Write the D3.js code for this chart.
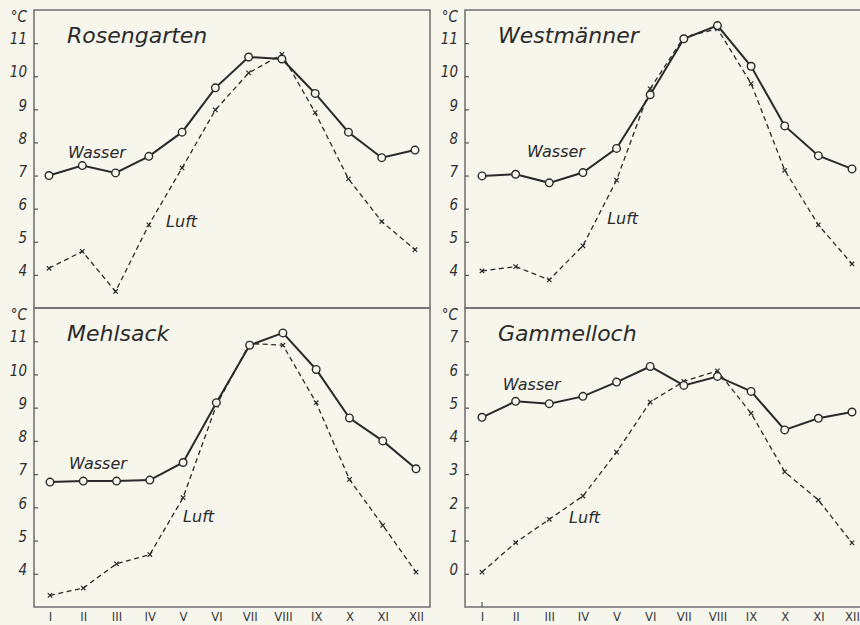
<!DOCTYPE html>
<html>
  <head>
    <meta charset="utf-8">
    <title>Wasser- und Lufttemperatur</title>
    <style>
      body { margin: 0; background: #f7f6ec; }
      svg { display: block; }
      .title { font-family: 'DejaVu Sans', sans-serif; font-style: italic; font-size: 22px; fill: #2b2b2b; }
      .series { font-family: 'DejaVu Sans', sans-serif; font-style: italic; font-size: 16px; fill: #2b2b2b; }
      .ylab { font-family: 'DejaVu Sans Condensed', 'DejaVu Sans', sans-serif; font-style: italic; font-size: 15px; fill: #2f2f2f; }
      .mlab { font-family: 'DejaVu Sans Condensed', 'DejaVu Sans', sans-serif; font-size: 13px; fill: #3a3a3a; }
    </style>
  </head>
  <body>
    <div id="chart"></div>
    <script src="https://d3js.org/d3.v7.min.js"></script>
    <script>
      const months = ['I', 'II', 'III', 'IV', 'V', 'VI', 'VII', 'VIII', 'IX', 'X', 'XI', 'XII'];
      const stations = ['Rosengarten', 'Westmänner', 'Mehlsack', 'Gammelloch'];

      // monthly means, °C
      const rosengartenWasser = [7.0, 7.3, 7.08, 7.58, 8.31, 9.65, 10.58, 10.52, 9.48, 8.31, 7.54, 7.77];
      const rosengartenLuft   = [4.2, 4.71, 3.5, 5.51, 7.23, 8.98, 10.1, 10.66, 8.9, 6.9, 5.61, 4.76];
      const westmaennerWasser = [6.99, 7.04, 6.78, 7.09, 7.82, 9.44, 11.13, 11.53, 10.3, 8.5, 7.6, 7.2];
      const westmaennerLuft   = [4.12, 4.25, 3.85, 4.88, 6.86, 9.62, 11.18, 11.43, 9.78, 7.16, 5.51, 4.33];
      const mehlsackWasser    = [6.76, 6.79, 6.79, 6.82, 7.35, 9.15, 10.88, 11.25, 10.15, 8.69, 8.0, 7.16];
      const mehlsackLuft      = [3.35, 3.57, 4.3, 4.58, 6.29, 9.07, 10.93, 10.88, 9.15, 6.84, 5.46, 4.05];
      const gammellochWasser  = [4.71, 5.19, 5.12, 5.34, 5.77, 6.24, 5.67, 5.94, 5.49, 4.33, 4.68, 4.87];
      const gammellochLuft    = [0.05, 0.94, 1.64, 2.34, 3.66, 5.17, 5.79, 6.11, 4.83, 3.07, 2.22, 0.93];

      const ticksWarm = [4, 5, 6, 7, 8, 9, 10, 11];
      const ticksCold = [0, 1, 2, 3, 4, 5, 6, 7];

      // label anchors in data units: [month index, °C]
      const wasserAt = [[0.57, 7.52], [1.34, 7.55], [0.57, 7.14], [0.62, 5.52]];
      const luftAt   = [[3.52, 5.44], [3.72, 5.53], [4.0, 5.57], [2.59, 1.52]];

      const wasser = [rosengartenWasser, westmaennerWasser, mehlsackWasser, gammellochWasser];
      const luft = [rosengartenLuft, westmaennerLuft, mehlsackLuft, gammellochLuft];
      const yTicks = [ticksWarm, ticksWarm, ticksWarm, ticksCold];
      const yDomains = [[3, 12], [3, 12], [3, 12], [-1, 8]];

      // panel frames
      const frames = [
        {left: 34, top: 10, right: 430, bottom: 308, x0: 49, x1: 415, months: false},
        {left: 465, top: 10, right: 875, bottom: 308, x0: 482, x1: 852, months: false},
        {left: 34, top: 308, right: 430, bottom: 607, x0: 50, x1: 416, months: true},
        {left: 465, top: 308, right: 875, bottom: 607, x0: 482, x1: 852, months: true, firstTick: true}
      ];

      const ink = '#2a2a2a';
      const paper = '#f7f6ec';

      const svg = d3.select('#chart').append('svg')
        .attr('width', 860)
        .attr('height', 625);

      svg.append('rect')
        .attr('width', 860).attr('height', 625)
        .attr('fill', paper);

      stations.forEach((name, i) => {
        const f = frames[i];
        const g = svg.append('g');

        const x = d3.scalePoint().domain(months).range([f.x0, f.x1]);
        const y = d3.scaleLinear().domain(yDomains[i]).range([f.bottom, f.top]);

        g.append('rect')
          .attr('x', f.left).attr('y', f.top)
          .attr('width', f.right - f.left).attr('height', f.bottom - f.top)
          .attr('fill', 'none')
          .attr('stroke', '#6e6e6e')
          .attr('stroke-width', 1.5);

        // y axis: ticks point inwards, labels sit on the tick
        g.append('g')
          .attr('transform', `translate(${f.left},0)`)
          .call(d3.axisLeft(y).tickValues(yTicks[i]).tickSize(-4).tickPadding(7).tickFormat(d3.format('d')))
          .attr('font-size', null).attr('font-family', null)
          .call(a => a.select('.domain').remove())
          .call(a => a.selectAll('line').attr('stroke', '#555').attr('stroke-width', 1.2))
          .call(a => a.selectAll('text').attr('class', 'ylab').attr('dy', '0.05em').attr('fill', null));

        g.append('text')
          .attr('class', 'ylab')
          .attr('x', f.left - 7)
          .attr('y', f.top + 12)
          .attr('text-anchor', 'end')
          .text('°C');

        if (f.months) {
          g.append('g')
            .attr('transform', `translate(0,${f.bottom})`)
            .call(d3.axisBottom(x).tickSize(0).tickPadding(5))
            .attr('font-size', null).attr('font-family', null)
            .call(a => a.select('.domain').remove())
            .call(a => a.selectAll('text').attr('class', 'mlab').attr('fill', null));
          if (f.firstTick) {
            g.append('line')
              .attr('x1', x('I')).attr('x2', x('I'))
              .attr('y1', f.bottom).attr('y2', f.bottom - 5)
              .attr('stroke', '#555').attr('stroke-width', 1.2);
          }
        }

        const line = d3.line()
          .x((d, k) => x(months[k]))
          .y(d => y(d));

        // Luft: dashed with small crosses
        g.append('path')
          .datum(luft[i])
          .attr('d', line)
          .attr('fill', 'none')
          .attr('stroke', ink)
          .attr('stroke-width', 1.3)
          .attr('stroke-dasharray', '5,3.5');

        const s = 2.2;
        g.append('g').selectAll('path')
          .data(luft[i])
          .join('path')
          .attr('d', (d, k) => {
            const cx = x(months[k]), cy = y(d);
            return `M${cx - s},${cy - s}L${cx + s},${cy + s}M${cx - s},${cy + s}L${cx + s},${cy - s}`;
          })
          .attr('stroke', ink)
          .attr('stroke-width', 1.2);

        // Wasser: solid with open circles
        g.append('path')
          .datum(wasser[i])
          .attr('d', line)
          .attr('fill', 'none')
          .attr('stroke', ink)
          .attr('stroke-width', 2);

        g.append('g').selectAll('circle')
          .data(wasser[i])
          .join('circle')
          .attr('cx', (d, k) => x(months[k]))
          .attr('cy', d => y(d))
          .attr('r', 3.8)
          .attr('fill', paper)
          .attr('stroke', ink)
          .attr('stroke-width', 1.4);

        g.append('text')
          .attr('class', 'title')
          .attr('x', f.left + 33)
          .attr('y', f.top + 33)
          .text(name);

        const xi = d3.scaleLinear().domain([0, months.length - 1]).range([f.x0, f.x1]);

        g.append('text')
          .attr('class', 'series')
          .attr('x', xi(wasserAt[i][0]))
          .attr('y', y(wasserAt[i][1]))
          .text('Wasser');

        g.append('text')
          .attr('class', 'series')
          .attr('x', xi(luftAt[i][0]))
          .attr('y', y(luftAt[i][1]))
          .text('Luft');
      });
    </script>
  </body>
</html>
